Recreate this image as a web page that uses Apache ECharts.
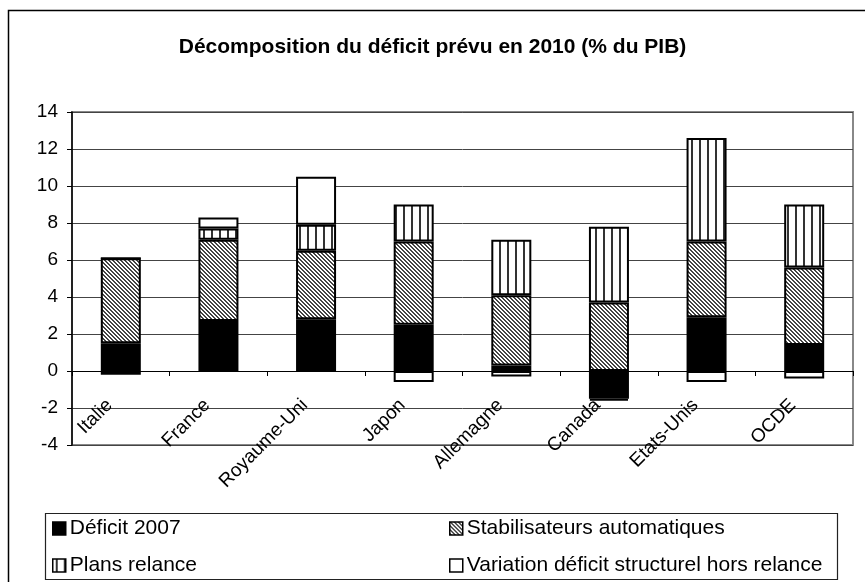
<!DOCTYPE html>
<html>
<head>
<meta charset="utf-8">
<script src="https://cdn.jsdelivr.net/npm/echarts@6/dist/echarts.min.js"></script>
<style>
html, body { margin: 0; padding: 0; background: #fff; }
#chart { width: 865px; height: 582px; }
</style>
</head>
<body>
<div id="chart"></div>
<script>
const countries = ['Italie', 'France', 'Royaume-Uni', 'Japon', 'Allemagne', 'Canada', 'Etats-Unis', 'OCDE']
const deficit2007 = [1.5, 2.7, 2.8, 2.5, 0.3, -1.5, 2.9, 1.4]
const stabilisateurs = [4.6, 4.4, 3.7, 4.5, 3.8, 3.7, 4.1, 4.2]
const plansRelance = [0, 0.6, 1.4, 2.0, 3.0, 4.1, 5.6, 3.4]
const variationStructurel = [-0.2, 0.6, 2.6, -0.6, -0.3, -0.1, -0.6, -0.4]

const FONT = '"Liberation Sans", Arial, sans-serif'

// motif hachuré \\\ pour les stabilisateurs
function diagonalPattern() {
  const c = document.createElement('canvas')
  c.width = 4
  c.height = 4
  const ctx = c.getContext('2d')
  ctx.fillStyle = '#fff'
  ctx.fillRect(0, 0, 4, 4)
  ctx.fillStyle = '#444'
  for (let i = 0; i < 4; i++) {
    ctx.fillRect(i, i, 1, 1)
    ctx.fillRect((i + 1) % 4, i, 1, 1)
  }
  return c
}

// rayures verticales pour les plans de relance
function stripePattern() {
  const c = document.createElement('canvas')
  c.width = 8
  c.height = 8
  const ctx = c.getContext('2d')
  ctx.fillStyle = '#fff'
  ctx.fillRect(0, 0, 8, 8)
  ctx.fillStyle = '#333'
  ctx.fillRect(3, 0, 2, 8)
  return c
}

const chart = echarts.init(document.getElementById('chart'), null, { renderer: 'canvas' })

function barSeries(name, data, fill) {
  return {
    name,
    type: 'bar',
    stack: 'total',
    barWidth: 40,
    data,
    itemStyle: { color: fill, borderColor: '#000', borderWidth: 2 },
    emphasis: { disabled: true },
  }
}

const legendBase = {
  orient: 'vertical',
  top: 518,
  padding: 0,
  itemGap: 16,
  itemWidth: 13,
  itemHeight: 13,
  icon: 'rect',
  itemStyle: { borderColor: '#000', borderWidth: 1.5 },
  textStyle: { fontFamily: FONT, fontSize: 21, color: '#000', padding: [0, 0, 0, -1] },
}

chart.setOption({
  animation: false,
  title: {
    text: 'Décomposition du déficit prévu en 2010 (% du PIB)',
    left: 'center',
    top: 32,
    textStyle: { fontFamily: FONT, fontSize: 21, fontWeight: 'bold', color: '#000' },
  },
  grid: {
    left: 72,
    top: 112,
    right: 12,
    bottom: 137,
    show: true,
    borderColor: '#888',
    borderWidth: 2,
  },
  legend: [
    Object.assign({}, legendBase, {
      data: ['Déficit 2007', 'Plans relance'],
      left: 52,
    }),
    Object.assign({}, legendBase, {
      data: ['Stabilisateurs automatiques', 'Variation déficit structurel hors relance'],
      left: 449,
    }),
  ],
  xAxis: {
    type: 'category',
    data: countries,
    axisLine: { onZero: true, lineStyle: { color: '#000', width: 1 } },
    axisTick: { show: true, length: 5, interval: 0, lineStyle: { color: '#000' } },
    axisLabel: {
      interval: 0,
      rotate: 45,
      margin: -54,
      padding: [0, 16, 0, 0],
      fontFamily: FONT,
      fontSize: 19,
      color: '#000',
    },
  },
  yAxis: {
    type: 'value',
    min: -4,
    max: 14,
    interval: 2,
    axisLine: { show: true, lineStyle: { color: '#000', width: 1.5 } },
    axisTick: { show: true, length: 5, lineStyle: { color: '#000' } },
    axisLabel: { margin: 14, fontFamily: FONT, fontSize: 19, color: '#000' },
    splitLine: { lineStyle: { color: '#444', width: 1 } },
  },
  graphic: [
    {
      type: 'rect',
      shape: { x: 8.5, y: 10.5, width: 880, height: 600 },
      style: { fill: 'none', stroke: '#000', lineWidth: 1.5 },
      silent: true,
      z: -1,
    },
    {
      type: 'rect',
      shape: { x: 45.5, y: 513.5, width: 792, height: 66 },
      style: { fill: 'none', stroke: '#222', lineWidth: 1.2 },
      silent: true,
      z: -1,
    },
  ],
  series: [
    barSeries('Déficit 2007', deficit2007, '#000'),
    barSeries('Stabilisateurs automatiques', stabilisateurs, { image: diagonalPattern(), repeat: 'repeat' }),
    barSeries('Plans relance', plansRelance, { image: stripePattern(), repeat: 'repeat' }),
    barSeries('Variation déficit structurel hors relance', variationStructurel, '#fff'),
  ],
})
</script>
</body>
</html>
